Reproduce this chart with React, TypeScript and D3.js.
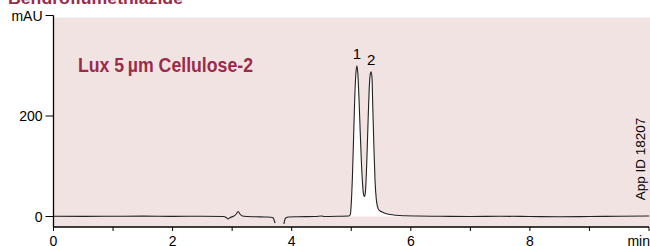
import React from "react";
import * as d3 from "d3";

// Chromatogram trace: retention time (min) and detector signal (mAU); null = gap in trace
const timeMin: number[] = [
  0, 0.5, 1.0, 1.5, 2.0, 2.5, 2.85, 2.9, 2.93, 2.97, 3.03, 3.07, 3.1, 3.13, 3.17, 3.25, 3.4, 3.55, 3.65, 3.69, 3.71, 3.72,
  3.8,
  3.87, 3.88, 3.9, 3.95, 4.1, 4.4, 4.5, 4.55, 4.8, 4.96,
  4.985, 5.0, 5.02, 5.04, 5.06, 5.08, 5.095, 5.11, 5.13, 5.15, 5.17, 5.19, 5.21, 5.225, 5.24, 5.26, 5.28, 5.3, 5.32, 5.335,
  5.35, 5.36, 5.38, 5.4, 5.42, 5.44, 5.47, 5.52, 5.58, 5.65, 5.75, 5.9, 6.1,
  6.5, 7.0, 7.5, 8.0, 8.5, 9.0, 9.5, 10.0,
];
const signalMAU: (number | null)[] = [
  0.5, 0.3, 0.5, 0.8, 0.2, 0.5, 0, -2, -5, -2, 1, 5, 10, 5, 1, 0, -0.5, -1, -1.5, -3, -9, -13,
  null,
  -15, -8, -3, -1, -0.5, 0, 1, 0, 0.5, 1,
  4, 25, 80, 160, 240, 288, 300, 285, 235, 170, 110, 65, 42, 40, 52, 105, 180, 250, 284, 288,
  272, 225, 140, 70, 35, 20, 12, 9, 6, 4, 2.5, 1.5, 1,
  0.5, 0, 0.5, 0, -0.5, 0, 0.5, 1,
];

const xTicks: number[] = [0, 1, 2, 3, 4, 5, 6, 7, 8, 9, 10];
const xTickLabels: string[] = ["0", "", "2", "", "4", "", "6", "", "8", "", "min"];
const yTicks: number[] = [0, 200, 400];
const yTickLabels: string[] = ["0", "200", "mAU"];
const peakLabels: string[] = ["1", "2"];
const peakTimes: number[] = [5.095, 5.335];
const peakHeights: number[] = [300, 288];

const title = "Bendroflumethiazide";
const columnName = "Lux 5\u2009\u00b5m Cellulose-2";
const appId = "App ID 18207";

export default function App() {
  const x = d3.scaleLinear().domain([0, 10]).range([53.5, 649]);
  const y = d3.scaleLinear().domain([0, 400]).range([216.5, 15.5]);
  const yBottom = 227;
  const red = "#9a2c4a";
  const pink = "#f2e3e3";

  const pts = timeMin.map((t, i) => ({ t, v: signalMAU[i] }));
  const line = d3
    .line<{ t: number; v: number | null }>()
    .defined((d) => d.v !== null)
    .x((d) => x(d.t))
    .y((d) => y(d.v as number))
    .curve(d3.curveMonotoneX);

  const peakPts = pts.filter((d) => d.t >= 4.96 && d.t <= 6.1 && d.v !== null);
  const area = d3
    .area<{ t: number; v: number | null }>()
    .x((d) => x(d.t))
    .y0(y(0))
    .y1((d) => y(Math.max(0, d.v as number)))
    .curve(d3.curveMonotoneX);

  const font = "'Liberation Sans', Arial, Helvetica, sans-serif";

  return (
    <svg
      width={650}
      height={246}
      style={{ position: "absolute", left: 0, top: 0 }}
      fontFamily={font}
    >
      <rect x={0} y={0} width={650} height={246} fill="#ffffff" />
      <rect x={x(0)} y={17.5} width={650 - x(0)} height={yBottom - 17.5} fill={pink} />

      <text
        x={8}
        y={3.5}
        fontSize={17}
        fontWeight="bold"
        fill={red}
        textLength={175}
        lengthAdjust="spacingAndGlyphs"
      >
        {title}
      </text>

      <text
        x={78}
        y={72}
        fontSize={20.5}
        fontWeight="bold"
        fill={red}
        textLength={175}
        lengthAdjust="spacingAndGlyphs"
      >
        {columnName}
      </text>

      <path d={area(peakPts) || ""} fill="#ffffff" stroke="none" />
      <path d={line(pts) || ""} fill="none" stroke="#222" strokeWidth={1.1} />

      {/* Y axis */}
      <line x1={x(0)} x2={x(0)} y1={y(400)} y2={yBottom} stroke="#000" strokeWidth={1.3} />
      {yTicks.map((v, i) => (
        <g key={"y" + v}>
          <line x1={x(0) - 8} x2={x(0)} y1={y(v)} y2={y(v)} stroke="#000" strokeWidth={1} />
          <text x={x(0) - 11} y={y(v) + 5} fontSize={14} textAnchor="end" fill="#000">
            {yTickLabels[i]}
          </text>
        </g>
      ))}

      {/* X axis */}
      <line x1={x(0)} x2={x(10)} y1={yBottom} y2={yBottom} stroke="#000" strokeWidth={1.3} />
      {xTicks.map((t, i) => (
        <g key={"x" + t}>
          <line x1={x(t)} x2={x(t)} y1={yBottom} y2={yBottom + 4} stroke="#000" strokeWidth={1} />
          {xTickLabels[i] !== "" && (
            <text
              x={t === 10 ? 650 : x(t)}
              y={246}
              fontSize={14}
              textAnchor={t === 10 ? "end" : "middle"}
              fill="#000"
            >
              {xTickLabels[i]}
            </text>
          )}
        </g>
      ))}

      {peakLabels.map((lab, i) => (
        <text
          key={lab}
          x={x(peakTimes[i])}
          y={y(peakHeights[i]) - 7}
          fontSize={15}
          textAnchor="middle"
          fill="#000"
        >
          {lab}
        </text>
      ))}

      <text
        transform="translate(645,159) rotate(-90)"
        fontSize={13.5}
        textAnchor="middle"
        fill="#000"
      >
        {appId}
      </text>
    </svg>
  );
}
